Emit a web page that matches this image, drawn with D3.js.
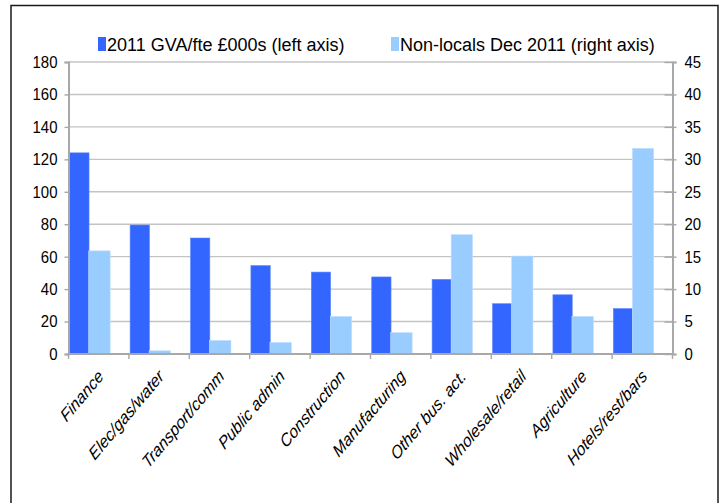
<!DOCTYPE html>
<html>
<head>
<meta charset="utf-8">
<script src="https://cdn.jsdelivr.net/npm/d3@7"></script>
<style>
  html, body { margin: 0; padding: 0; background: #fff; }
  svg { display: block; }
  text { font-family: "Liberation Sans", Arial, sans-serif; fill: #000; }
</style>
</head>
<body>
<svg id="chart" width="724" height="503"></svg>
<script>
// Sectors, ordered by GVA per full-time equivalent
const categories = ["Finance", "Elec/gas/water", "Transport/comm", "Public admin", "Construction",
  "Manufacturing", "Other bus. act.", "Wholesale/retail", "Agriculture", "Hotels/rest/bars"];
// 2011 GVA per FTE, £000s (left axis)
const gvaPerFte = [124, 79.5, 71.5, 54.5, 50.5, 47.5, 46, 31, 36.5, 28];
// Non-local workers, Dec 2011 (right axis)
const nonLocals = [15.9, 0.5, 2.1, 1.8, 5.8, 3.3, 18.4, 15.1, 5.8, 31.7];
const leftTicks = [0, 20, 40, 60, 80, 100, 120, 140, 160, 180];
const rightTicks = [0, 5, 10, 15, 20, 25, 30, 35, 40, 45];
const seriesNames = ["2011 GVA/fte £000s (left axis)", "Non-locals Dec 2011 (right axis)"];

const colDark = "#3366ff", colLight = "#99ccff";
const gridCol = "#c4c4c4", axisCol = "#a8a8a8";
const sx = 0.88; // horizontal squeeze applied to axis text

const svg = d3.select("#chart");
const plot = { left: 68.5, right: 672.5, top: 62, bottom: 354 };

const x = d3.scaleBand().domain(categories).range([plot.left, plot.right]).padding(0);
const yL = d3.scaleLinear().domain([0, 180]).range([plot.bottom, plot.top]);
const yR = d3.scaleLinear().domain([0, 45]).range([plot.bottom, plot.top]);
const bw = x.bandwidth();

// outer frame
svg.append("rect").attr("x", 11).attr("y", 5.5).attr("width", 707).attr("height", 560)
  .attr("fill", "none").attr("stroke", "#1a1a1a").attr("stroke-width", 1.5);

// horizontal gridlines
svg.append("g").selectAll("line").data(leftTicks.filter(d => d > 0)).join("line")
  .attr("x1", plot.left).attr("x2", plot.right)
  .attr("y1", d => yL(d)).attr("y2", d => yL(d))
  .attr("stroke", gridCol).attr("stroke-width", 1.4);

// bars
svg.append("g").selectAll("rect").data(categories).join("rect")
  .attr("x", c => x(c) + bw * 0.02).attr("width", bw * 0.32)
  .attr("y", (c, i) => yL(gvaPerFte[i])).attr("height", (c, i) => yL(0) - yL(gvaPerFte[i]))
  .attr("fill", colDark).attr("stroke", "#5c85ff").attr("stroke-width", 0.6);
svg.append("g").selectAll("rect").data(categories).join("rect")
  .attr("x", c => x(c) + bw * 0.335).attr("width", bw * 0.355)
  .attr("y", (c, i) => yR(nonLocals[i])).attr("height", (c, i) => yR(0) - yR(nonLocals[i]))
  .attr("fill", colLight).attr("stroke", "#c6e2ff").attr("stroke-width", 0.6);

function squeezeText(g) {
  g.selectAll(".tick text").each(function () {
    const t = d3.select(this);
    const tx = +t.attr("x");
    t.attr("x", 0).attr("transform", `translate(${tx},0) scale(${sx},1)`);
  });
}

// left axis
const gl = svg.append("g").attr("transform", `translate(${plot.left},0)`)
  .call(d3.axisLeft(yL).tickValues(leftTicks).tickSize(4).tickPadding(7).tickFormat(d3.format("d")));
gl.select(".domain").attr("stroke", axisCol).attr("stroke-width", 2);
gl.selectAll(".tick line").attr("stroke", axisCol).attr("stroke-width", 1.4);
gl.selectAll(".tick text").attr("font-size", 17).attr("fill", "#000");
squeezeText(gl);

// right axis
const gr = svg.append("g").attr("transform", `translate(${plot.right},0)`)
  .call(d3.axisRight(yR).tickValues(rightTicks).tickSize(4).tickPadding(8).tickFormat(d3.format("d")));
gr.select(".domain").attr("stroke", axisCol).attr("stroke-width", 2);
gr.selectAll(".tick line").attr("x1", -8).attr("stroke", axisCol).attr("stroke-width", 1.4);
gr.selectAll(".tick text").attr("font-size", 17).attr("fill", "#000");
squeezeText(gr);

// category axis
svg.append("line").attr("x1", plot.left - 1).attr("x2", plot.right + 1)
  .attr("y1", plot.bottom).attr("y2", plot.bottom)
  .attr("stroke", axisCol).attr("stroke-width", 2);
const bounds = categories.map(c => x(c)).concat([x.range()[1]]);
svg.append("g").selectAll("line").data(bounds).join("line")
  .attr("x1", d => d).attr("x2", d => d)
  .attr("y1", plot.bottom).attr("y2", plot.bottom + 5)
  .attr("stroke", axisCol).attr("stroke-width", 1.4);

svg.append("g").selectAll("text").data(categories).join("text")
  .attr("transform", c => `translate(${x(c) + bw / 2 + 2},${plot.bottom + 19}) scale(0.84,1) rotate(-45)`)
  .attr("text-anchor", "end").attr("dy", "0.35em")
  .attr("font-size", 18).attr("font-style", "italic")
  .text(c => c);

// legend
const legend = [
  { name: seriesNames[0], color: colDark, x: 98 },
  { name: seriesNames[1], color: colLight, x: 391 }
];
const lg = svg.append("g").selectAll("g").data(legend).join("g")
  .attr("transform", d => `translate(${d.x},0)`);
lg.append("rect").attr("x", 0).attr("y", 37).attr("width", 8).attr("height", 14).attr("fill", d => d.color);
lg.append("text").attr("x", 9).attr("y", 50.5).attr("font-size", 18).text(d => d.name);
</script>
</body>
</html>
